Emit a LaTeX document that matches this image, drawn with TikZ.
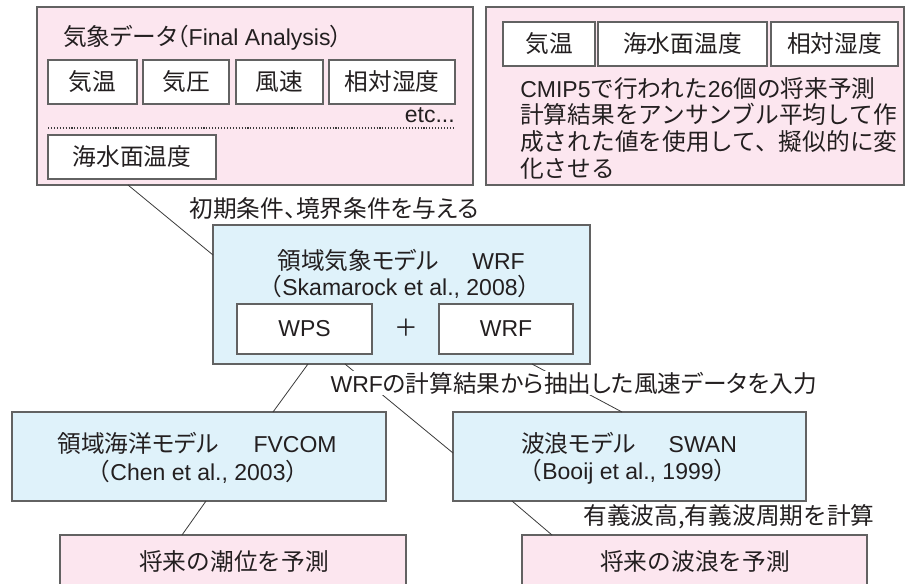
\documentclass[tikz,border=0pt]{standalone}
\usepackage{fontspec}
\setmainfont{Liberation Sans}
\newfontfamily\jpfont[Scale=1.03]{Noto Sans CJK JP}
\newfontfamily\jppfont[Scale=1.03,RawFeature=+palt]{Noto Sans CJK JP}
\newcommand\J[1]{{\jpfont #1}}
\newcommand\JP[1]{{\jppfont #1}}
\newcommand\myfs{\fontsize{17.25pt}{20pt}\selectfont}
\usetikzlibrary{calc}
\definecolor{pinkfill}{HTML}{FCE6EF}
\definecolor{bluefill}{HTML}{DFF2FA}
\definecolor{bordergray}{HTML}{626262}
\definecolor{textcol}{HTML}{231F20}
\definecolor{linegray}{HTML}{3A3A3A}
\tikzset{
  box/.style={draw=bordergray, line width=0.9pt, inner sep=0pt, outer sep=0pt, text=textcol, font=\myfs},
  pinkbox/.style={box, fill=pinkfill},
  bluebox/.style={box, fill=bluefill},
  whitebox/.style={box, fill=white},
  sz/.style 2 args={minimum width={#1*0.75pt}, minimum height={#2*0.75pt}},
  txt/.style={inner sep=0pt, text=textcol, font=\myfs},
  lbl/.style={inner sep=1pt, fill=white, text=textcol, font=\myfs},
  conn/.style={draw=linegray, line width=0.6pt},
  sep/.style={draw=linegray, line width=0.8pt, dash pattern=on 0.8pt off 1.4pt}
}
\begin{document}
\begin{tikzpicture}[x=0.75pt,y=-0.75pt]
\useasboundingbox (0,0) rectangle (906,583);

% top-left block
\node[pinkbox, sz={436}{178}] (topL) at (255,96) {};
\node[txt, anchor=west] (title) at (63,38) {\JP{気象データ（}Final Analysis\JP{）}};
\node[whitebox, sz={89}{44}] (kion) at (92.5,82) {\J{気温}};
\node[whitebox, sz={86}{44}] (kiatsu) at (186,82) {\J{気圧}};
\node[whitebox, sz={87}{44}] (fusoku) at (279.5,82) {\J{風速}};
\node[whitebox, sz={126}{44}] (shitsudo) at (392,82) {\J{相対湿度}};
\node[txt, anchor=east] (etc) at (455,115) {etc...};
\coordinate (sepA) at (48,128);
\coordinate (sepB) at (455,128);
\draw[sep] (sepA) -- (sepB);
\node[whitebox, sz={168}{44}] (sst) at (132,157) {\J{海水面温度}};

% top-right block
\node[pinkbox, sz={418}{178}] (topR) at (695,96) {};
\node[whitebox, sz={92}{44}] (kionB) at (549,44) {\J{気温}};
\node[whitebox, sz={169}{44}] (sstB) at (682.5,44) {\J{海水面温度}};
\node[whitebox, sz={127}{44}] (shitsudoB) at (834.5,44) {\J{相対湿度}};
\node[txt, anchor=west, align=left, font={\fontsize{17.25pt}{20pt}\selectfont}] (cmip) at (520,128)
  {CMIP5\J{で行われた}26\J{個の将来予測}\\
   \J{計算結果をアンサンブル平均して作}\\
   \J{成された値を使用して、擬似的に変}\\
   \J{化させる}};

% WRF block
\node[bluebox, sz={377}{139}] (wrf) at (401.5,294.5) {};
\node[txt] (wrfT) at (401,260) {\JP{領域気象モデル}\hspace{1.45em}WRF};
\node[txt] (wrfR) at (400,287) {\J{（}Skamarock et al., 2008\J{）}};
\node[whitebox, sz={135}{50}] (wps) at (304.5,329) {WPS};
\node[txt] (plus) at (406,328) {\J{＋}};
\node[whitebox, sz={134}{50}] (wrfm) at (506,329) {WRF};

% FVCOM and SWAN
\node[bluebox, sz={374}{89}] (fvcom) at (199,456.5) {};
\node[txt] (fvT) at (197,443) {\JP{領域海洋モデル}\hspace{1.5em}FVCOM};
\node[txt] (fvR) at (198,472) {\J{（}Chen et al., 2003\J{）}};
\node[bluebox, sz={353}{89}] (swan) at (629.5,456.5) {};
\node[txt] (swT) at (629,443) {\JP{波浪モデル}\hspace{1.45em}SWAN};
\node[txt] (swR) at (628,472) {\J{（}Booij et al., 1999\J{）}};

% bottom outputs
\node[pinkbox, sz={346}{50}] (bl) at (233,560) {};
\node[txt] (blT) at (234,562) {\J{将来の潮位を予測}};
\node[pinkbox, sz={345}{50}] (br) at (694.5,560) {};
\node[txt] (brT) at (695,562) {\J{将来の波浪を予測}};

% connectors
\draw[conn] ($(topL.south west)+(91,0)$) -- ($(wrf.north west)+(0,30)$);
\draw[conn] ($(wrf.south west)+(95,0)$) -- ($(fvcom.north west)+(261,0)$);
\draw[conn] ($(wrf.south west)+(132,0)$) -- ($(swan.north west)+(0,41)$);
\draw[conn] ($(wrf.south west)+(319,0)$) -- ($(swan.north west)+(169,0)$);
\draw[conn] ($(fvcom.south west)+(194,0)$) -- ($(bl.north west)+(122,0)$);
\draw[conn] ($(swan.south west)+(59,0)$) -- ($(br.north west)+(30,0)$);

% connector labels
\node[lbl, anchor=west] (l1) at (188,209) {\JP{初期条件、境界条件を与える}};
\node[lbl, anchor=west] (l2) at (329,383) {WRF\JP{の計算結果から抽出した風速データを入力}};
\node[lbl, anchor=west] (l3) at (582,517) {\J{有義波高,有義波周期を計算}};
\end{tikzpicture}
\end{document}
